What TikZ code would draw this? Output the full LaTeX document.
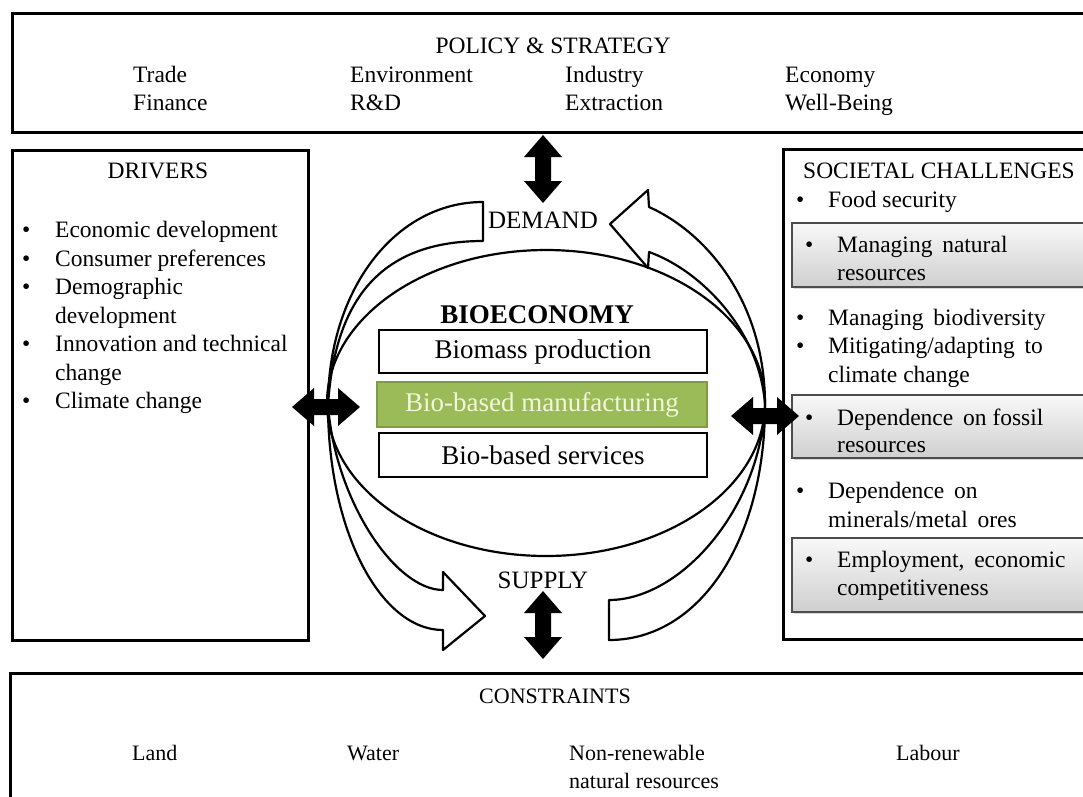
\documentclass[tikz,border=0pt]{standalone}
\usepackage{fontspec}
\setmainfont{Liberation Serif}
\usetikzlibrary{shadows}

\definecolor{bbgreen}{HTML}{9BBB59}
\definecolor{bbgreendark}{HTML}{7E9C44}
\definecolor{bbtext}{HTML}{F1F6DC}

\begin{document}
\begin{tikzpicture}[x=1pt,y=-1pt]
  \tikzset {
    panel/.style={draw=black, line width=3pt},
    txt/.style={inner sep=0pt, anchor=base west, font=\fontsize{23.5}{28}\selectfont},
    ttl/.style={inner sep=0pt, anchor=base, font=\fontsize{23.5}{28}\selectfont},
    greybox/.style={
      draw=gray!60!black,
      line width=1.2pt,
      top color=gray!5,
      bottom color=gray!38,
      drop shadow={opacity=0.3, shadow xshift=2pt, shadow yshift=-2pt}
    },
    layer/.style={
      rectangle,
      draw=black,
      line width=2.5pt,
      fill=white,
      minimum width=328pt,
      minimum height=43pt,
      font=\fontsize{27}{32}\selectfont
    },
    band/.style={draw=black, line width=2.2pt, line join=round},
    updown/.pic={
      \fill (0,-34) -- (19,-12) -- (8,-12) -- (8,12) -- (19,12) -- (0,34)
        -- (-19,12) -- (-8,12) -- (-8,-12) -- (-19,-12) -- cycle;
    }
  }
  \useasboundingbox (0,0) rectangle (1083,796);
  \clip (0,0) rectangle (1083,796);

  % panels
  \draw[panel] (12,13) rectangle (1100,132);
  \draw[panel] (12,150) rectangle (308,640);
  \draw[panel] (783,149) rectangle (1100,639);
  \draw[panel] (10,673) rectangle (1100,810);

  % policy & strategy
  \node[ttl] (policy) at (553,53) {POLICY \& STRATEGY};
  \node[txt] (trade) at (133,82) {Trade};
  \node[txt] (finance) at (133,110) {Finance};
  \node[txt] (environment) at (350,82) {Environment};
  \node[txt] (rnd) at (350,110) {R\&D};
  \node[txt] (industry) at (565,82) {Industry};
  \node[txt] (extraction) at (565,110) {Extraction};
  \node[txt] (economy) at (785,82) {Economy};
  \node[txt] (wellbeing) at (785,110) {Well-Being};

  % drivers
  \node[ttl] (drivers) at (158,178) {DRIVERS};
  \node[txt] (dbul1) at (22,237) {\textbullet};
  \node[txt] (ecodev) at (55,237) {Economic development};
  \node[txt] (dbul2) at (22,266) {\textbullet};
  \node[txt] (consumer) at (55,266) {Consumer preferences};
  \node[txt] (dbul3) at (22,294) {\textbullet};
  \node[txt] (demo) at (55,294) {Demographic};
  \node[txt] (demo2) at (55,323) {development};
  \node[txt] (dbul4) at (22,351) {\textbullet};
  \node[txt] (innov) at (55,351) {Innovation and technical};
  \node[txt] (innov2) at (55,380) {change};
  \node[txt] (dbul5) at (22,408) {\textbullet};
  \node[txt] (climate) at (55,408) {Climate change};

  % societal challenges
  \draw[greybox] (792,223) rectangle (1100,287);
  \draw[greybox] (792,395) rectangle (1100,458);
  \draw[greybox] (792,538) rectangle (1100,612);
  \node[txt] (societal) at (803,178) {SOCIETAL CHALLENGES};
  \node[txt] (sbul1) at (796,207) {\textbullet};
  \node[txt] (food) at (828,207) {Food security};
  \node[txt] (sbul2) at (805,252) {\textbullet};
  \node[txt] (natres) at (837,252) {Managing\, natural};
  \node[txt] (natres2) at (837,280) {resources};
  \node[txt] (sbul3) at (796,325) {\textbullet};
  \node[txt] (biodiv) at (828,325) {Managing\, biodiversity};
  \node[txt] (sbul4) at (796,353) {\textbullet};
  \node[txt] (mitig) at (828,353) {Mitigating/adapting\, to};
  \node[txt] (mitig2) at (828,382) {climate change};
  \node[txt] (sbul5) at (805,425) {\textbullet};
  \node[txt] (fossil) at (837,425) {Dependence\, on fossil};
  \node[txt] (fossil2) at (837,452) {resources};
  \node[txt] (sbul6) at (796,498) {\textbullet};
  \node[txt] (minerals) at (828,498) {Dependence\, on};
  \node[txt] (minerals2) at (828,527) {minerals/metal\, ores};
  \node[txt] (sbul7) at (805,567) {\textbullet};
  \node[txt] (employ) at (837,567) {Employment,\, economic};
  \node[txt] (employ2) at (837,595) {competitiveness};

  % bioeconomy cycle
  \coordinate (pivL) at (328,405);
  \coordinate (pivR) at (765,405);
  \draw[band] (546,403) ellipse [x radius=219, y radius=153];
  \draw[band] (pivL) .. controls (328,290) and (395,202) .. (483,202)
    -- (483,241) .. controls (380,241) and (335,300) .. (pivL);
  \draw[band] (pivR) .. controls (765,300) and (705,232) .. (649,207)
    -- (648,190) -- (610,224) -- (648,268) -- (649,252)
    .. controls (700,270) and (760,330) .. (pivR);
  \draw[band] (pivL) .. controls (328,530) and (380,630) .. (443,630)
    -- (443,650) -- (485,616) -- (443,572) -- (443,590)
    .. controls (395,590) and (335,500) .. (pivL);
  \draw[band] (pivR) .. controls (765,540) and (700,640) .. (609,640)
    -- (609,600) .. controls (680,600) and (760,510) .. (pivR);

  \node[inner sep=0pt, anchor=base, font=\bfseries\fontsize{27}{32}\selectfont] (bioeconomy) at (537,323) {BIOECONOMY};
  \node[layer] (biomass) at (543,351.5) {Biomass production};
  \node[layer, fill=bbgreen, draw=bbgreendark, text=bbtext, minimum width=330pt, minimum height=45pt] (manufacturing) at (542,404.5) {Bio-based manufacturing};
  \node[layer, minimum height=44pt] (services) at (543,455) {Bio-based services};

  \node[inner sep=0pt, anchor=base, font=\fontsize{25}{30}\selectfont] (demand) at (543,228) {DEMAND};
  \node[inner sep=0pt, anchor=base, font=\fontsize{25}{30}\selectfont] (supply) at (543,588) {SUPPLY};

  % block arrows
  \pic at (543,169) {updown};
  \pic at (543,625) {updown};
  \pic[rotate=90] at (326,407) {updown};
  \pic[rotate=90] at (765,416) {updown};

  % constraints
  \node[ttl, font=\fontsize{22}{27}\selectfont] (constraints) at (555,703) {CONSTRAINTS};
  \node[txt, font=\fontsize{22}{27}\selectfont] (land) at (132,760) {Land};
  \node[txt, font=\fontsize{22}{27}\selectfont] (water) at (347,760) {Water};
  \node[txt, font=\fontsize{22}{27}\selectfont] (nonrenew) at (569,760) {Non-renewable};
  \node[txt, font=\fontsize{22}{27}\selectfont] (nonrenew2) at (569,788) {natural resources};
  \node[txt, font=\fontsize{22}{27}\selectfont] (labour) at (896,760) {Labour};

\end{tikzpicture}
\end{document}
